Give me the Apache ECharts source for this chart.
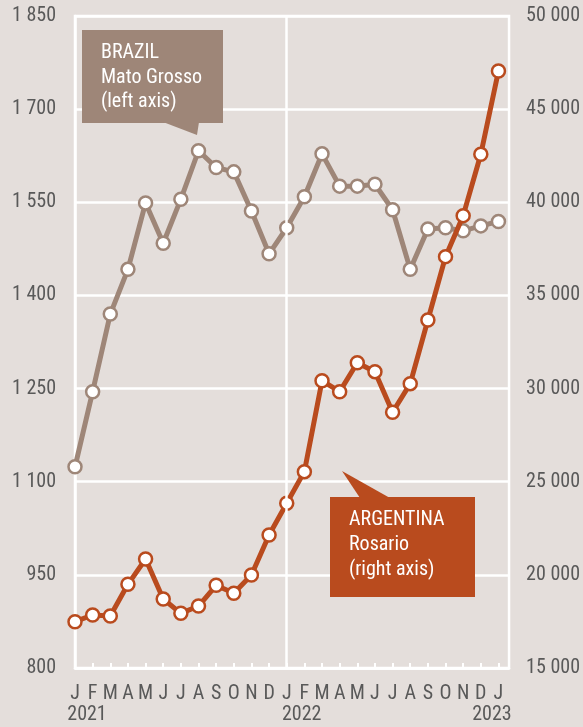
<!DOCTYPE html>
<html>
<head>
<meta charset="utf-8">
<script src="https://cdn.jsdelivr.net/npm/echarts@6/dist/echarts.min.js"></script>
<style>
html,body{margin:0;padding:0;background:#e4dedb;}
#c{width:583px;height:727px;}
</style>
</head>
<body>
<div id="c"></div>
<script>
// Month index 0 = Jan 2021 ... 24 = Jan 2023
var monthLetters = ['J','F','M','A','M','J','J','A','S','O','N','D','J','F','M','A','M','J','J','A','S','O','N','D','J'];
var yearLabels = {0:'2021', 12:'2022', 24:'2023'};
var brazil = [1124,1245,1370,1442,1549,1484,1555,1633,1606,1599,1536,1467,
              1509,1559,1628,1576,1576,1579,1538,1442,1507,1509,1504,1512,1519];
var argentina = [17486,17845,17792,19492,20851,18704,17935,18328,19438,19008,19993,22140,
                 23840,25540,30424,29834,31390,30908,28726,30264,33682,37082,39283,42577,47050];
var leftTicks = {min:800, max:1850, step:150};
var rightTicks = {min:15000, max:50000, step:5000};

var FONT = "'Roboto Condensed','Liberation Sans Narrow','Arial Narrow',sans-serif";
var FS = 20;
var TXT = '#595959';
var BR = '#9e8678';
var AR = '#b94b1e';

function sep(v){ return String(v).replace(/\B(?=(\d{3})+(?!\d))/g, ' '); }
function pairs(arr){ return arr.map(function(v,i){ return [i,v]; }); }
function isInt(v){ return Math.abs(v-Math.round(v))<1e-6; }

var chart = echarts.init(document.getElementById('c'));
chart.setOption({
  backgroundColor:'#e4dedb',
  animation:false,
  grid:{left:75,right:73,top:16,bottom:59,show:true,borderColor:'#ffffff',borderWidth:2.5,backgroundColor:'transparent'},
  xAxis:[{
    type:'value', min:0, max:24.6, interval:1, position:'bottom',
    axisLine:{show:true,lineStyle:{color:'#ffffff',width:2.5}},
    axisTick:{show:true,inside:true,length:5,lineStyle:{color:'#ffffff',width:2}},
    splitLine:{show:false},
    axisLabel:{
      margin:16, showMinLabel:true, showMaxLabel:false, hideOverlap:false,
      fontFamily:FONT,fontSize:FS,color:TXT,
      formatter:function(v){ return isInt(v) ? monthLetters[Math.round(v)] : ''; }
    }
  },{
    type:'value', min:0, max:24.6, interval:12, position:'bottom',
    axisLine:{show:false}, axisTick:{show:false}, splitLine:{show:false},
    axisLabel:{
      margin:37, showMinLabel:true, showMaxLabel:false, hideOverlap:false,
      fontFamily:FONT,fontSize:FS,color:TXT,
      formatter:function(v){
        if (!isInt(v)) return '';
        var i = Math.round(v);
        if (!yearLabels[i]) return '';
        var key = i===0?'ya':(i===12?'yb':'yc');
        return '{'+key+'|'+yearLabels[i]+'}';
      },
      rich:{
        ya:{fontFamily:FONT,fontSize:FS,color:TXT,padding:[0,0,0,24]},
        yb:{fontFamily:FONT,fontSize:FS,color:TXT,padding:[0,0,0,30]},
        yc:{fontFamily:FONT,fontSize:FS,color:TXT,padding:[0,13,0,0]}
      }
    }
  }],
  yAxis:[{
    type:'value', min:leftTicks.min, max:leftTicks.max, interval:leftTicks.step, position:'left',
    axisLine:{show:true,lineStyle:{color:'#ffffff',width:2.5}},
    axisTick:{show:false},
    splitLine:{show:true,lineStyle:{color:'#ffffff',width:2.5}},
    axisLabel:{margin:19,fontFamily:FONT,fontSize:FS,color:TXT,formatter:function(v){return sep(v);}}
  },{
    type:'value', min:rightTicks.min, max:rightTicks.max, interval:rightTicks.step, position:'right',
    axisLine:{show:false},
    axisTick:{show:false},
    splitLine:{show:false},
    axisLabel:{margin:17,fontFamily:FONT,fontSize:FS,color:TXT,formatter:function(v){return sep(v);}}
  }],
  series:[{
    type:'line', data:[], z:1, silent:true,
    markLine:{silent:true,symbol:'none',label:{show:false},
      lineStyle:{color:'#ffffff',width:2.5,type:'solid'},
      data:[{xAxis:12}]}
  },{
    name:'Brazil', type:'line', yAxisIndex:0, data:pairs(brazil), z:3,
    symbol:'circle', symbolSize:13,
    lineStyle:{color:BR,width:5},
    itemStyle:{color:'#ffffff',borderColor:BR,borderWidth:2.5}
  },{
    name:'Argentina', type:'line', yAxisIndex:1, data:pairs(argentina), z:4,
    symbol:'circle', symbolSize:13,
    lineStyle:{color:AR,width:5},
    itemStyle:{color:'#ffffff',borderColor:AR,borderWidth:2.5}
  }],
  graphic:[
    {type:'rect',shape:{x:82,y:30,width:141,height:93},style:{fill:BR},z:10},
    {type:'polygon',shape:{points:[[163,122],[199,122],[197,135]]},style:{fill:BR},z:10},
    {type:'text',x:101,y:41,style:{text:'BRAZIL\nMato Grosso\n(left axis)',fill:'#ffffff',font:FS+'px '+FONT,lineHeight:24.5,verticalAlign:'top'},z:11},
    {type:'rect',shape:{x:330,y:497,width:145,height:100},style:{fill:AR},z:10},
    {type:'polygon',shape:{points:[[342,471],[360,498],[390,498]]},style:{fill:AR},z:10},
    {type:'text',x:349,y:507.5,style:{text:'ARGENTINA\nRosario\n(right axis)',fill:'#ffffff',font:FS+'px '+FONT,lineHeight:25,verticalAlign:'top'},z:11}
  ]
});
</script>
</body>
</html>
